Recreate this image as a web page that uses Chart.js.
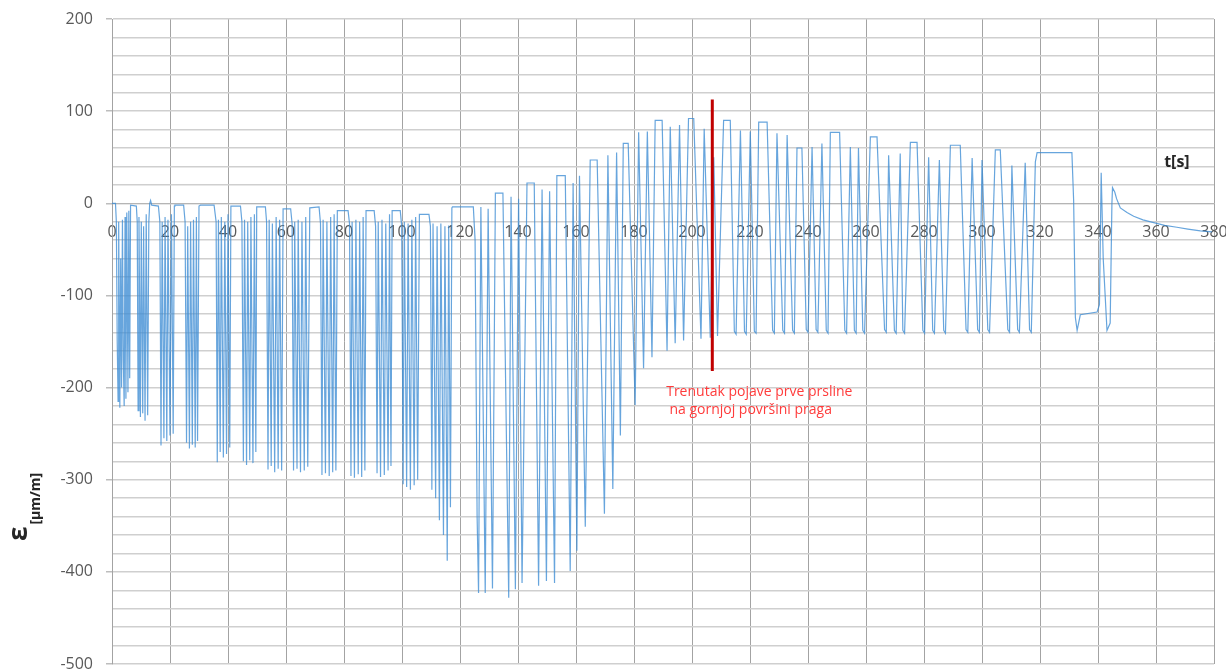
<!DOCTYPE html>
<html>
<head>
<meta charset="utf-8">
<script src="https://cdn.jsdelivr.net/npm/chart.js@4.4.1/dist/chart.umd.min.js"></script>
<style>
	html, body { margin: 0; padding: 0; background: #fff; }
	#wrap { width: 1226px; height: 671px; position: relative; }
</style>
</head>
<body>
<div id="wrap"><canvas id="chart"></canvas></div>
<script>
'use strict'

// vrijeme t [s], grupe ciklusa
var time = [
	0, 1.2, 1.5, 1.8, 2.1, 2.3, 2.7, 3.0, 3.3, 3.6, 3.9, 4.2, 4.5, 4.8, 5.1, 5.5, 5.8, 6.1, 6.4,
	8.4, 8.7, 9.0, 9.3, 9.8, 10.1, 10.6, 10.9, 11.4, 11.8, 12.3, 12.7, 13.0,
	13.3, 13.7, 16.0, 16.5, 16.9, 17.3, 17.9, 18.3, 18.9, 19.3, 20.0, 20.5, 21.1, 21.5,
	21.7, 24.7, 25.2, 25.7, 26.1, 26.7, 27.1, 27.7, 28.1, 28.7, 29.1, 29.5, 30.0,
	30.5, 35.2, 35.9, 36.3, 36.7, 37.3, 37.7, 38.4, 38.9, 39.5, 40.0, 40.6, 41.0,
	41.3, 44.3, 44.8, 45.3, 45.7, 46.4, 46.8, 47.5, 47.9, 48.6, 49.1, 49.6, 49.9,
	52.9, 53.3, 53.8, 54.2, 54.9, 55.3, 56.1, 56.6, 57.3, 57.8, 58.5, 59.0,
	61.6, 62.1, 62.6, 63.0, 63.8, 64.2, 65.0, 65.5, 66.3, 66.8, 67.5, 68.2,
	71.4, 71.9, 72.4, 72.8, 73.6, 74.1, 74.9, 75.4, 76.1, 76.6, 77.2, 77.7,
	81.4, 81.9, 82.4, 82.8, 83.6, 84.1, 84.9, 85.4, 86.1, 86.6, 87.2, 87.6,
	90.4, 90.9, 91.4, 91.8, 92.6, 93.1, 93.9, 94.4, 95.2, 95.7, 96.2, 96.6,
	99.4, 99.9, 100.4, 100.8, 101.6, 102.1, 102.9, 103.4, 104.2, 104.7, 105.4, 106.0,
	109.3, 109.8, 110.3, 110.7, 111.6, 112.1, 112.9, 113.4, 114.3, 114.8, 115.6, 116.1, 116.7, 117.2,
	117.4, 124.6, 125.2, 125.9, 126.4, 127.2, 128.7, 129.7, 131.2, 132.2, 134.8,
	136.8, 137.6, 139.1, 140.2, 141.4, 143.1, 145.6,
	147.1, 148.3, 149.8, 150.9, 152.6, 153.4, 156.3,
	158.0, 159.0, 160.3, 161.2, 163.2, 164.9, 167.3,
	169.8, 171.0, 172.7, 174.0, 175.3, 176.3, 178.0,
	180.4, 181.6, 183.3, 184.6, 186.2, 187.3, 189.7,
	191.4, 192.5, 194.2, 195.7, 197.1, 198.8, 200.6,
	203.1, 204.2, 206.3, 207.5, 208.8, 210.9, 213.2,
	214.6, 215.2, 216.7, 218.1, 218.7, 220.1, 221.5, 222.1, 223.0, 225.9,
	227.8, 228.4, 229.3, 231.3, 231.9, 232.8, 234.7, 235.3, 236.2, 237.9,
	239.4, 240.0, 241.4, 242.8, 243.4, 244.8, 246.3, 246.9, 247.7, 250.9,
	252.7, 253.3, 254.6, 256.0, 256.6, 257.4, 258.9, 259.5, 261.5, 263.8,
	266.4, 267.0, 267.8, 269.8, 270.4, 271.8, 272.7, 273.3, 275.3, 277.6,
	279.6, 280.2, 281.6, 283.0, 283.6, 285.3, 286.8, 287.4, 289.1, 292.5,
	294.5, 295.1, 296.6, 298.5, 299.1, 300.0, 302.0, 302.6, 304.6, 306.3,
	308.9, 309.5, 310.3, 312.3, 312.9, 314.9, 316.4, 317.0, 318.4, 319.0, 331.0,
	331.6, 332.2, 332.8, 333.9, 339.7, 340.5, 341.1, 341.8, 343.1, 344.2, 344.8, 345.0,
	345.8, 346.4, 347.7, 350.0, 352.3, 355.5, 359.2, 363.0, 367.2, 371.0, 375.3, 379.3
];

// deformacija [µm/m]
var strain = [
	0, 0, -20, -150, -215, -20, -222, -60, -200, -18, -170, -220, -15, -212, -10, -205, -8, -190, -2,
	-3, -20, -225, -15, -232, -20, -228, -25, -236, -12, -230, -20, 0,
	3, -2, -3, -20, -263, -20, -255, -15, -258, -18, -252, -12, -250, -3,
	-2, -2, -20, -260, -25, -266, -20, -262, -18, -265, -15, -258, -3,
	-2, -2, -20, -281, -18, -270, -15, -276, -20, -272, -12, -265, -3,
	-3, -3, -20, -280, -18, -284, -20, -279, -15, -282, -12, -270, -4,
	-4, -20, -289, -18, -285, -22, -292, -15, -288, -18, -290, -6,
	-6, -22, -290, -20, -288, -18, -292, -20, -290, -15, -286, -5,
	-4, -22, -295, -18, -293, -20, -296, -15, -292, -12, -290, -8,
	-8, -22, -296, -20, -298, -18, -294, -20, -297, -15, -290, -8,
	-8, -25, -293, -20, -297, -18, -295, -22, -290, -12, -285, -8,
	-8, -25, -305, -20, -308, -22, -311, -18, -306, -15, -300, -12,
	-12, -25, -311, -22, -320, -25, -344, -22, -360, -25, -388, -24, -330, -5,
	-4, -4, -40, -340, -423, -4, -423, -6, -418, 11, 11,
	-428, 7, -419, 5, -412, 22, 22,
	-415, 15, -410, 13, -412, 30, 30,
	-399, 22, -377, 30, -351, 47, 47,
	-337, 52, -310, 55, -252, 65, 65,
	-219, 77, -179, 78, -167, 90, 90,
	-160, 83, -152, 85, -149, 92, 92,
	-147, 81, -146, 50, -144, 90, 90,
	-139, -142, 79, -139, -142, 78, -139, -141, 88, 88,
	-138, -141, 76, -138, -141, 74, -138, -141, 60, 60,
	-137, -140, 61, -137, -140, 65, -138, -141, 77, 77,
	-138, -141, 61, -138, -141, 60, -138, -141, 72, 72,
	-137, -140, 52, -138, -141, 54, -138, -141, 66, 66,
	-138, -141, 50, -138, -141, 47, -138, -141, 63, 63,
	-137, -140, 49, -137, -140, 47, -137, -140, 58, 58,
	-137, -140, 41, -137, -140, 44, -137, -140, 45, 55, 55,
	3, -124, -138, -121, -118, -110, 33, -60, -138, -130, 0, 17,
	12, 5, -5, -10, -14, -18, -21, -24, -26, -28, -30, -31
];

// trenutak pojave prve prsline
var crackTime = [207.0, 207.0];
var crackStrain = [112.6, -182];

var xTicks = { min: 0, max: 380, step: 20 };
var yTicks = { min: -500, max: 200, step: 20, labelStep: 100 };

var FONT = '"Open Sans", "DejaVu Sans", sans-serif';

var annotations = {
	id: 'annotations',
	afterDatasetsDraw: function (chart) {
		var ctx = chart.ctx,
			xs = chart.scales.x,
			ys = chart.scales.y;

		ctx.save();
		// crveni tekst
		ctx.fillStyle = '#ff3b3b';
		ctx.font = '14px ' + FONT;
		ctx.textAlign = 'left';
		ctx.textBaseline = 'alphabetic';
		ctx.fillText('Trenutak pojave prve prsline', xs.getPixelForValue(191.1), ys.getPixelForValue(-209));
		ctx.fillText('na gornjoj površini praga', xs.getPixelForValue(192.2), ys.getPixelForValue(-228.5));

		// t[s]
		ctx.fillStyle = '#262626';
		ctx.font = 'bold 16px ' + FONT;
		ctx.textAlign = 'center';
		ctx.textBaseline = 'middle';
		ctx.fillText('t[s]', xs.getPixelForValue(367.2), ys.getPixelForValue(44.4));
		ctx.restore();

		// naslov y osi
		ctx.save();
		ctx.translate(27, 541);
		ctx.rotate(-Math.PI / 2);
		ctx.fillStyle = '#262626';
		ctx.textAlign = 'left';
		ctx.textBaseline = 'alphabetic';
		ctx.font = 'bold 26px ' + FONT;
		ctx.fillText('ε', 0, 0);
		var w = ctx.measureText('ε').width;
		ctx.font = 'bold 14px ' + FONT;
		ctx.fillText('[µm/m]', w + 2, 13);
		ctx.restore();
	}
};

function noPadding (scale) {
	scale.paddingLeft = 0;
	scale.paddingRight = 0;
	scale.paddingTop = 0;
	scale.paddingBottom = 0;
}

var chart = new Chart(document.getElementById('chart'), {
	type: 'line',
	data: {
		datasets: [
			{
				data: crackTime.map(function (t, i) { return { x: t, y: crackStrain[i] }; }),
				borderColor: '#c00000',
				borderWidth: 3,
				pointRadius: 0
			},
			{
				data: time.map(function (t, i) { return { x: t, y: strain[i] }; }),
				borderColor: 'rgba(60,140,212,0.78)',
				borderWidth: 1.2,
				pointRadius: 0,
				tension: 0
			}
		]
	},
	options: {
		responsive: true,
		maintainAspectRatio: false,
		animation: false,
		parsing: false,
		layout: { padding: { top: 19, right: 12, bottom: 7, left: 0 } },
		plugins: {
			legend: { display: false },
			tooltip: { enabled: false }
		},
		scales: {
			x: {
				type: 'linear',
				position: { y: 0 },
				min: xTicks.min,
				max: xTicks.max,
				afterFit: noPadding,
				grid: { color: '#a3a3a3', lineWidth: 1, drawTicks: false },
				border: { display: true, color: '#b5b5b5', width: 1 },
				ticks: {
					stepSize: xTicks.step,
					padding: 20,
					maxRotation: 0,
					autoSkip: false,
					color: '#595959',
					font: { family: FONT, size: 16 }
				}
			},
			y: {
				type: 'linear',
				min: yTicks.min,
				max: yTicks.max,
				afterFit: function (scale) { noPadding(scale); scale.width = 112; },
				grid: {
					color: '#cfcfcf',
					lineWidth: 1.5,
					tickLength: 6,
					tickColor: function (c) {
						return c.tick && c.tick.value % yTicks.labelStep === 0 ? '#bdbdbd' : 'rgba(0,0,0,0)';
					}
				},
				border: { display: true, color: '#a3a3a3', width: 1 },
				ticks: {
					stepSize: yTicks.step,
					padding: 13,
					autoSkip: false,
					color: '#595959',
					font: { family: FONT, size: 16 },
					callback: function (v) { return v % yTicks.labelStep === 0 ? v : ''; }
				}
			}
		}
	},
	plugins: [annotations]
});
</script>
</body>
</html>
